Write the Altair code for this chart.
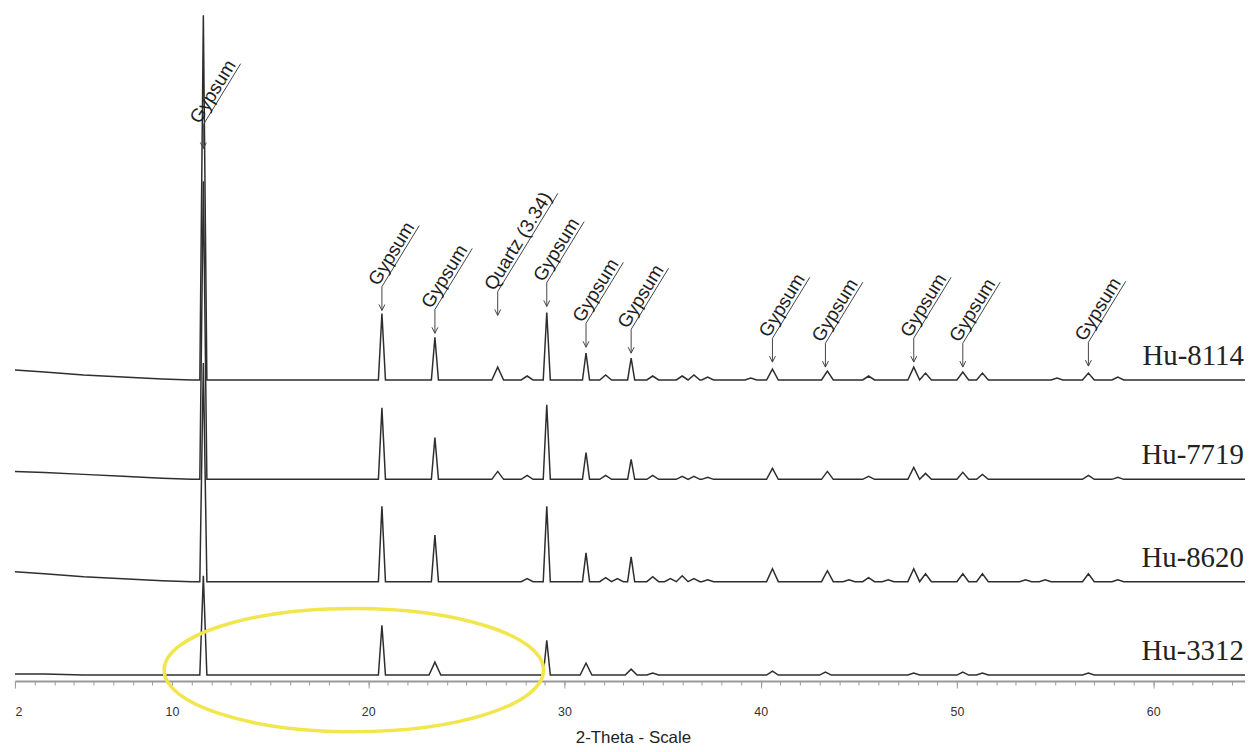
import math
import altair as alt
import pandas as pd

# ---------------- values ----------------
samples = ["Hu-8114", "Hu-7719", "Hu-8620", "Hu-3312"]
sample_offset = [303, 203, 100, 6]          # vertical stacking of the patterns (counts)

# low-angle background (2θ, counts above each pattern's baseline)
bg_theta = [2.0, 3.5, 5.5, 7.5, 9.5, 11.0, 64.7]
bg_8114 = [10, 8, 5, 3, 1, 0, 0]
bg_7719 = [8, 7, 5, 3, 1, 0, 0]
bg_8620 = [10, 8, 5, 3, 1, 0, 0]
bg_3312 = [1, 1, 0, 0, 0, 0, 0]

# peak apexes (2θ, counts above baseline)
pk_8114_theta = [11.6, 20.7, 23.4, 26.6, 28.1, 29.1, 31.1, 32.1, 33.4, 34.5, 36.0, 36.6,
                 37.3, 39.5, 40.6, 43.4, 45.5, 47.8, 48.4, 50.3, 51.3, 55.1, 56.7, 58.2]
pk_8114_height = [367, 67, 43, 13, 4, 68, 27, 5, 22, 4, 4, 5,
                  3, 2, 11, 9, 4, 13, 7, 8, 7, 2, 7, 3]

pk_7719_theta = [11.6, 20.7, 23.4, 26.6, 28.1, 29.1, 31.1, 32.1, 33.4, 34.5, 36.0, 36.6,
                 37.3, 40.6, 43.4, 45.5, 47.8, 48.4, 50.3, 51.3, 56.7, 58.2]
pk_7719_height = [300, 72, 42, 8, 4, 75, 27, 4, 20, 4, 3, 3,
                  2, 11, 8, 3, 12, 6, 7, 5, 4, 2]

pk_8620_theta = [11.6, 20.7, 23.4, 28.1, 29.1, 31.1, 32.1, 32.7, 33.4, 34.5, 35.4, 36.0,
                 36.6, 37.3, 40.6, 43.4, 44.5, 45.5, 46.5, 47.8, 48.4, 50.3, 51.3, 53.5,
                 54.5, 56.7, 58.2]
pk_8620_height = [220, 76, 47, 3, 76, 29, 4, 3, 25, 5, 3, 6,
                  3, 2, 13, 11, 2, 4, 2, 13, 8, 8, 8, 2,
                  2, 8, 2]

pk_3312_theta = [11.6, 20.7, 23.4, 29.1, 31.1, 33.4, 34.5, 40.6, 43.3, 47.8, 50.3, 51.3, 56.7]
pk_3312_height = [100, 50, 13, 35, 12, 6, 2, 4, 3, 2, 3, 2, 2]

# phase annotations (2θ, label, level of the arrow tip)
ann_theta = [11.6, 20.7, 23.4, 26.6, 29.1, 31.1, 33.4, 40.6, 43.3, 47.8, 50.3, 56.7]
ann_label = ["Gypsum", "Gypsum", "Gypsum", "Quartz (3.34)", "Gypsum", "Gypsum",
             "Gypsum", "Gypsum", "Gypsum", "Gypsum", "Gypsum", "Gypsum"]
ann_tip = [536, 373, 350, 368, 377, 336, 330, 321, 316, 321, 316, 317]

# highlighted region (centre in 2θ / counts)
ellipse_theta = [19.27]
ellipse_level = [11]

x_ticks = [2, 10, 20, 30, 40, 50, 60]
x_minor = list(range(2, 65))

# ---------------- layout / style ----------------
W, H = 1238, 673
X_MIN, X_MAX = 2.0, 64.68
Y_MAX = 673
PX_PER_DEG = W / (X_MAX - X_MIN)
ARROW_LEN = 24
ANGLE = 58.5
UNDERLINE = {"Gypsum": 72, "Quartz (3.34)": 116}
LABEL_X = 64.62
LINE_COLOR = "#2e2e2e"
ANN_COLOR = "#444444"
AXIS_COLOR = "#9a9a9a"

bg_all = {"Hu-8114": bg_8114, "Hu-7719": bg_7719, "Hu-8620": bg_8620, "Hu-3312": bg_3312}
pk_all = {
    "Hu-8114": (pk_8114_theta, pk_8114_height),
    "Hu-7719": (pk_7719_theta, pk_7719_height),
    "Hu-8620": (pk_8620_theta, pk_8620_height),
    "Hu-3312": (pk_3312_theta, pk_3312_height),
}

rows = []
for s, off in zip(samples, sample_offset):
    th, hh = pk_all[s]
    verts = []
    spans = []
    for p, h in zip(th, hh):
        w = 0.18 if h > 15 else 0.3
        spans.append((p - w, p + w))
        verts += [(p - w, 0), (p, h), (p + w, 0)]
    for t, c in zip(bg_theta, bg_all[s]):
        if not any(a <= t <= b for a, b in spans):
            verts.append((t, c))
    verts.sort()
    for t, c in verts:
        rows.append({"sample": s, "theta": t, "level": c + off})
trace_df = pd.DataFrame(rows)

lab_df = pd.DataFrame({"sample": samples,
                       "theta": [LABEL_X] * len(samples),
                       "level": [o + 15 for o in sample_offset]})

ca, sa = math.cos(math.radians(ANGLE)), math.sin(math.radians(ANGLE))
ann_df = pd.DataFrame({"theta": ann_theta, "label": ann_label, "tip": ann_tip})
ann_df["junction"] = ann_df["tip"] + ARROW_LEN
ann_df["ux2"] = ann_df["theta"] + ann_df["label"].map(UNDERLINE) * ca / PX_PER_DEG
ann_df["uy2"] = ann_df["junction"] + ann_df["label"].map(UNDERLINE) * sa

ell_df = pd.DataFrame({"theta": ellipse_theta, "level": ellipse_level})

xs = alt.Scale(domain=[X_MIN, X_MAX], nice=False, zero=False)
ys = alt.Scale(domain=[0, Y_MAX], nice=False, zero=False)

major_axis = alt.Axis(values=x_ticks, orient="bottom", title="2-Theta - Scale",
                      grid=False, tickSize=7, tickColor=AXIS_COLOR, domainColor=AXIS_COLOR,
                      domainWidth=2, labelPadding=18, labelFont="Liberation Sans",
                      labelFontSize=12.5, labelColor="#333333", titleFont="Liberation Sans",
                      titleFontSize=17, titleFontWeight="normal", titleColor="#222222",
                      titleX=622, titleY=57, titleBaseline="middle", titleAlign="center",
                      format="d")
minor_axis = alt.Axis(values=x_minor, orient="bottom", title=None, grid=False, labels=False,
                      domain=False, tickSize=4, tickColor=AXIS_COLOR)
y_axis = alt.Axis(title=None, labels=False, ticks=False, grid=False, domainColor=AXIS_COLOR,
                  domainWidth=2)

traces = alt.Chart(trace_df).mark_line(stroke=LINE_COLOR, strokeWidth=1.5).encode(
    x=alt.X("theta:Q", scale=xs, axis=major_axis),
    y=alt.Y("level:Q", scale=ys, axis=y_axis),
    detail="sample:N",
)

labels = alt.Chart(lab_df).mark_text(font="Liberation Serif", fontSize=29, align="right",
                                     baseline="alphabetic", fill="#222222").encode(
    x=alt.X("theta:Q", scale=xs, axis=minor_axis),
    y=alt.Y("level:Q", scale=ys, axis=None),
    text="sample:N",
)

shaft = alt.Chart(ann_df).mark_rule(stroke=ANN_COLOR, strokeWidth=1).encode(
    x=alt.X("theta:Q", scale=xs, axis=None),
    y=alt.Y("tip:Q", scale=ys, axis=None),
    y2="junction:Q",
)
head = alt.Chart(ann_df).mark_point(shape="M-1,-2L0,0L1,-2", size=36, filled=False,
                                    stroke=ANN_COLOR, strokeWidth=1, opacity=1).encode(
    x=alt.X("theta:Q", scale=xs, axis=None),
    y=alt.Y("tip:Q", scale=ys, axis=None),
)
underline = alt.Chart(ann_df).mark_rule(stroke=ANN_COLOR, strokeWidth=1).encode(
    x=alt.X("theta:Q", scale=xs, axis=None),
    x2="ux2:Q",
    y=alt.Y("junction:Q", scale=ys, axis=None),
    y2="uy2:Q",
)
ann_text = alt.Chart(ann_df).mark_text(angle=360 - ANGLE, align="left", baseline="alphabetic",
                                       dx=-2, dy=-3, font="Liberation Sans", fontSize=19,
                                       fill="#1e1e1e").encode(
    x=alt.X("theta:Q", scale=xs, axis=None),
    y=alt.Y("junction:Q", scale=ys, axis=None),
    text="label:N",
)

ellipse = alt.Chart(ell_df).mark_point(
    shape="M-1,0A1,0.325 0 1,0 1,0A1,0.325 0 1,0 -1,0Z", size=382 * 382, filled=False,
    stroke="#f2e64e", strokeWidth=3.5, opacity=1).encode(
    x=alt.X("theta:Q", scale=xs, axis=None),
    y=alt.Y("level:Q", scale=ys, axis=None),
)

chart = alt.layer(traces, labels, shaft, head, underline, ann_text, ellipse).resolve_axis(
    x="independent"
).properties(
    width=W, height=H,
    padding={"left": 7, "top": 2, "right": 0, "bottom": 64},
    autosize=alt.AutoSizeParams(type="none"),
).configure_view(stroke=None)

chart.save("out.html", embed_options={"renderer": "svg", "actions": False})
